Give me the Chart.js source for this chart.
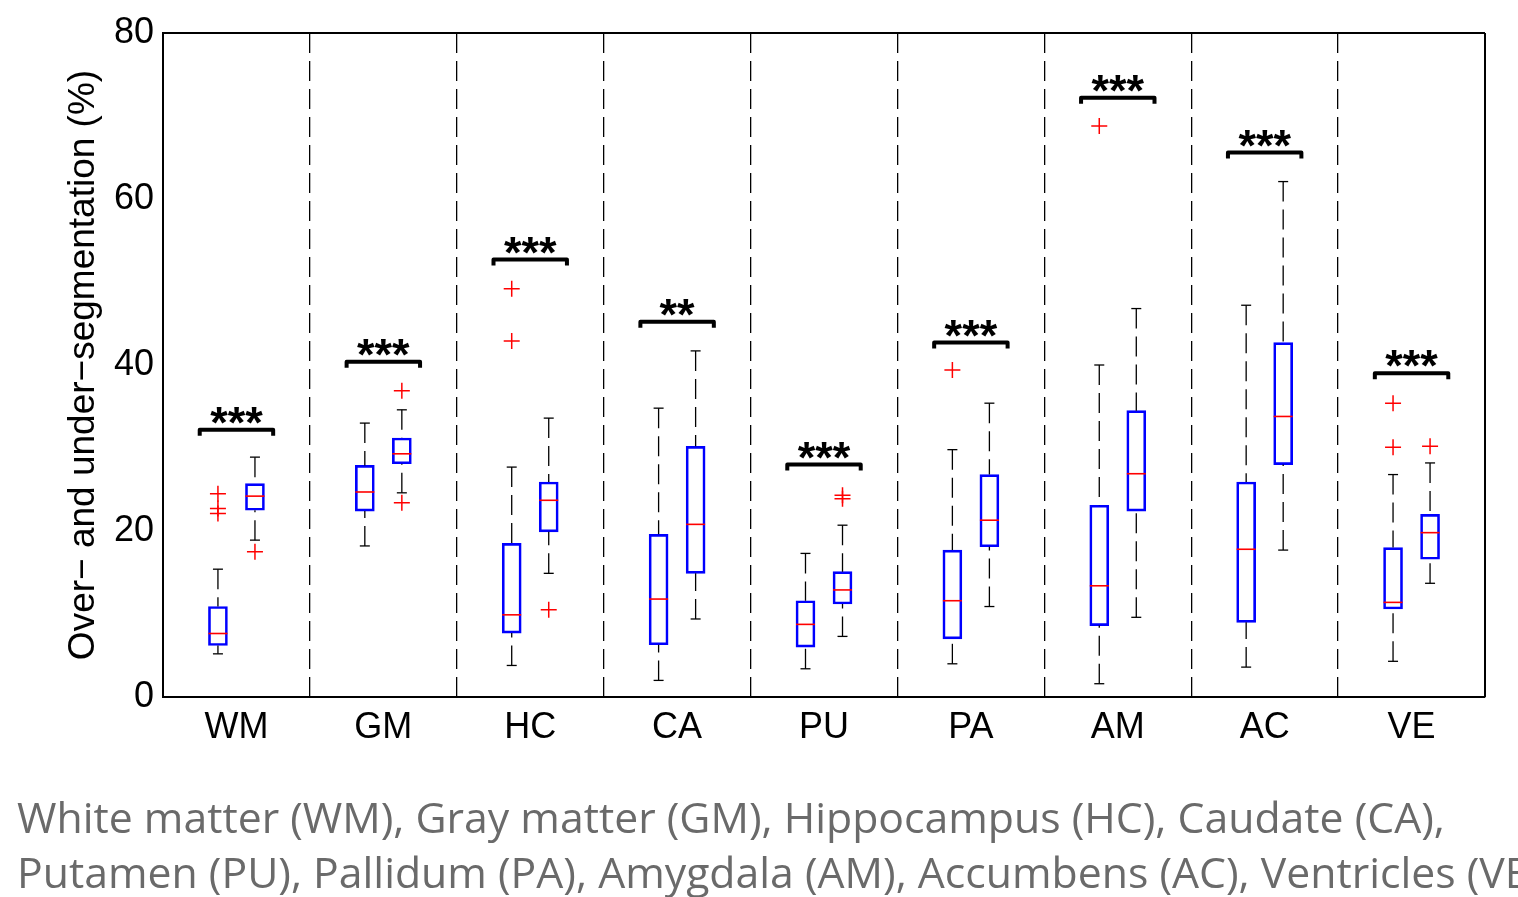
<!DOCTYPE html>
<html>
<head>
<meta charset="utf-8">
<script src="https://cdn.jsdelivr.net/npm/chart.js@4.4.0/dist/chart.umd.min.js"></script>
<style>
  body { margin: 0; background: #fff; }
  #wrap { position: relative; width: 1518px; height: 897px; overflow: hidden; }
  #caption { position: absolute; left: 17px; top: 789px; font-family: 'Open Sans', sans-serif; color: #6a6a6a; font-size: 38px; line-height: 55px; white-space: nowrap; }
</style>
</head>
<body>
<div id="wrap">
  <canvas id="chart" width="1518" height="897"></canvas>
  <div id="caption">
    <div><span id="cap1">White matter (WM), Gray matter (GM), Hippocampus (HC), Caudate (CA),</span></div>
    <div>Putamen (PU), Pallidum (PA), Amygdala (AM), Accumbens (AC), Ventricles (VE)</div>
  </div>
</div>
<script>
const categories = ['WM', 'GM', 'HC', 'CA', 'PU', 'PA', 'AM', 'AC', 'VE'];
const yTicks = [0, 20, 40, 60, 80];

// left box of each pair
const lowA  = [5.2, 18.2, 3.8, 2.0, 3.4, 4.0, 1.6, 3.6, 4.3];
const q1A   = [6.2, 22.4, 7.7, 6.3, 6.0, 7.0, 8.6, 9.0, 10.6];
const medA  = [7.65, 24.7, 9.9, 11.8, 8.75, 11.6, 13.4, 17.8, 11.4];
const q3A   = [10.9, 27.9, 18.5, 19.6, 11.6, 17.7, 23.1, 25.9, 18.0];
const highA = [15.4, 33.0, 27.7, 34.8, 17.3, 29.8, 40.0, 47.2, 26.8];
const outA  = [[22.1, 22.7, 24.5], [], [42.9, 49.2], [], [], [39.4], [68.8], [], [30.1, 35.4]];

// right box of each pair
const lowB  = [18.9, 24.6, 14.9, 9.4, 7.3, 10.9, 9.6, 17.7, 13.7];
const q1B   = [22.5, 28.1, 19.9, 14.9, 11.2, 18.1, 22.4, 28.0, 16.6];
const medB  = [24.2, 29.3, 23.7, 20.8, 12.9, 21.3, 26.9, 33.8, 19.8];
const q3B   = [25.7, 31.2, 25.9, 30.2, 15.1, 26.8, 34.5, 42.7, 22.0];
const highB = [28.9, 34.6, 33.6, 41.7, 20.7, 35.4, 46.8, 62.1, 28.2];
const outB  = [[17.5], [23.4, 36.9], [10.5], [], [23.9, 24.3], [], [], [], [30.2]];

// significance brackets
const sigLevel = [32.2, 40.4, 52.7, 45.2, 28.0, 42.7, 72.2, 65.6, 39.0];
const sigStars = ['***', '***', '***', '**', '***', '***', '***', '***', '***'];

const shift = 0.126;   // offset of each box from category centre
const FONT = "'Liberation Sans', Arial, sans-serif";

const groups = [
  { off: -shift, low: lowA, q1: q1A, med: medA, q3: q3A, high: highA, out: outA },
  { off: shift,  low: lowB, q1: q1B, med: medB, q3: q3B, high: highB, out: outB }
];

const boxData = g => categories.map((c, i) => ({ x: i + 1 + g.off, y: [g.q1[i], g.q3[i]] }));
const outData = g => {
  const pts = [];
  g.out.forEach((vals, i) => vals.forEach(v => pts.push({ x: i + 1 + g.off, y: v })));
  return pts;
};

const boxExtras = {
  id: 'boxExtras',
  afterDatasetsDraw(chart) {
    const { ctx, chartArea, scales: { x, y } } = chart;
    const line = (x1, y1, x2, y2) => { ctx.beginPath(); ctx.moveTo(x1, y1); ctx.lineTo(x2, y2); ctx.stroke(); };
    ctx.save();
    groups.forEach(g => {
      categories.forEach((c, i) => {
        const px = x.getPixelForValue(i + 1 + g.off);
        // whiskers
        ctx.strokeStyle = '#000';
        ctx.lineWidth = 1.3;
        ctx.setLineDash([20, 8]);
        line(px, y.getPixelForValue(g.high[i]), px, y.getPixelForValue(g.q3[i]));
        line(px, y.getPixelForValue(g.low[i]), px, y.getPixelForValue(g.q1[i]));
        ctx.setLineDash([]);
        line(px - 5, y.getPixelForValue(g.high[i]), px + 5, y.getPixelForValue(g.high[i]));
        line(px - 5, y.getPixelForValue(g.low[i]), px + 5, y.getPixelForValue(g.low[i]));
        // median
        ctx.strokeStyle = '#ff0000';
        ctx.lineWidth = 1.6;
        line(px - 9.5, y.getPixelForValue(g.med[i]), px + 9.5, y.getPixelForValue(g.med[i]));
      });
    });
    // brackets + stars
    ctx.strokeStyle = '#000';
    ctx.fillStyle = '#000';
    ctx.lineWidth = 4;
    ctx.lineJoin = 'round';
    ctx.textAlign = 'center';
    ctx.textBaseline = 'alphabetic';
    ctx.font = 'bold 45px ' + FONT;
    categories.forEach((c, i) => {
      const l = x.getPixelForValue(i + 1 - 0.25);
      const r = x.getPixelForValue(i + 1 + 0.25);
      const yb = y.getPixelForValue(sigLevel[i]);
      ctx.beginPath();
      ctx.moveTo(l, yb + 6);
      ctx.lineTo(l, yb);
      ctx.lineTo(r, yb);
      ctx.lineTo(r, yb + 6);
      ctx.stroke();
      ctx.fillText(sigStars[i], x.getPixelForValue(i + 1), yb + 8);
    });
    // top and right frame
    ctx.lineWidth = 2;
    ctx.strokeStyle = '#000';
    line(chartArea.left, chartArea.top, chartArea.right, chartArea.top);
    line(chartArea.right, chartArea.top, chartArea.right, chartArea.bottom);
    ctx.restore();
  }
};

const ctx = document.getElementById('chart').getContext('2d');

new Chart(ctx, {
  type: 'bar',
  data: {
    datasets: [
      ...groups.map(g => ({
        type: 'bar',
        data: boxData(g),
        grouped: false,
        barThickness: 19,
        backgroundColor: 'rgba(255,255,255,0)',
        borderColor: '#0000ff',
        borderWidth: 2,
        borderSkipped: false
      })),
      ...groups.map(g => ({
        type: 'scatter',
        data: outData(g),
        pointStyle: 'cross',
        pointRadius: 8,
        borderColor: '#ff0000',
        borderWidth: 1.5,
        showLine: false
      }))
    ]
  },
  options: {
    responsive: false,
    animation: false,
    layout: { padding: { left: 0, top: 33, right: 33, bottom: 0 } },
    plugins: { legend: { display: false }, tooltip: { enabled: false } },
    scales: {
      x: {
        type: 'linear',
        min: 0.5,
        max: 9.5,
        offset: false,
        afterBuildTicks: axis => {
          axis.ticks = [];
          for (let v = 0.5; v <= 9.5; v += 0.5) axis.ticks.push({ value: v });
        },
        afterFit: axis => { axis.height = 200; },
        ticks: {
          autoSkip: false,
          maxRotation: 0,
          padding: 9,
          color: '#000',
          font: { family: FONT, size: 36 },
          callback: v => Number.isInteger(v) ? categories[v - 1] : ''
        },
        grid: {
          offset: false,
          drawTicks: false,
          lineWidth: 1.3,
          color: c => (c.tick && c.tick.value % 1 !== 0 && c.tick.value > 0.5 && c.tick.value < 9.5) ? '#000' : 'rgba(0,0,0,0)'
        },
        border: { display: true, color: '#000', width: 2, dash: [20, 8] }
      },
      y: {
        min: 0,
        max: 80,
        afterBuildTicks: axis => { axis.ticks = yTicks.map(v => ({ value: v })); },
        afterFit: axis => { axis.width = 163; },
        ticks: {
          padding: 1,
          color: '#000',
          font: { family: FONT, size: 36 }
        },
        grid: { display: false },
        border: { display: true, color: '#000', width: 2 },
        title: {
          display: true,
          text: 'Over\u2212 and under\u2212segmentation (%)',
          color: '#000',
          font: { family: FONT, size: 37 },
          padding: { top: 62, bottom: 0 }
        }
      }
    }
  },
  plugins: [boxExtras]
});

// fit caption line width to the reference (~1428px)
const cap = document.getElementById('caption');
const w = document.getElementById('cap1').getBoundingClientRect().width;
cap.style.fontSize = (38 * 1428 / w).toFixed(2) + 'px';
</script>
</body>
</html>
